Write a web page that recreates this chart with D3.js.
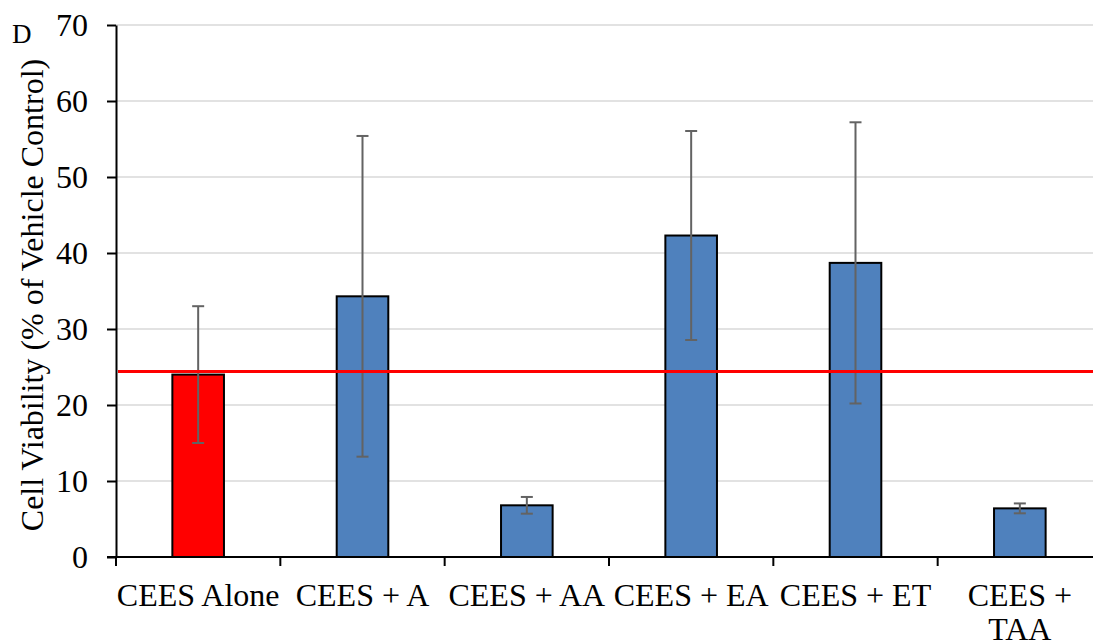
<!DOCTYPE html>
<html>
<head>
<meta charset="utf-8">
<script src="https://cdn.jsdelivr.net/npm/d3@7"></script>
<style>
  body { margin: 0; background: #fff; }
  svg text { font-family: "Liberation Serif", "Times New Roman", Times, serif; fill: #000; }
</style>
</head>
<body>
<div id="chart"></div>
<script>
const width = 1093;
const height = 640;
const margin = { top: 25, right: -9, bottom: 83, left: 116 };
const serif = "'Liberation Serif', 'Times New Roman', Times, serif";

// data
const categories = ["CEES Alone", "CEES + A", "CEES + AA", "CEES + EA", "CEES + ET", "CEES + TAA"];
const labelLines = [["CEES Alone"], ["CEES + A"], ["CEES + AA"], ["CEES + EA"], ["CEES + ET"], ["CEES +", "TAA"]];
const viability = [24.0, 34.3, 6.8, 42.3, 38.7, 6.4];
const sd = [9.0, 21.1, 1.1, 13.75, 18.5, 0.65];
const barColors = ["#ff0000", "#4f81bd", "#4f81bd", "#4f81bd", "#4f81bd", "#4f81bd"];
const referenceLine = 24.4;
const yTicks = [0, 10, 20, 30, 40, 50, 60, 70];

const svg = d3.select("#chart")
  .append("svg")
  .attr("width", width)
  .attr("height", height);

const x = d3.scaleBand()
  .domain(categories)
  .range([margin.left, width - margin.right])
  .padding(0);

const y = d3.scaleLinear()
  .domain([0, 70])
  .range([height - margin.bottom, margin.top]);

const barW = x.bandwidth() * 0.314;

// gridlines
svg.append("g")
  .selectAll("line")
  .data(yTicks.filter(d => d > 0))
  .join("line")
  .attr("x1", margin.left)
  .attr("x2", width - margin.right - 2)
  .attr("y1", d => y(d))
  .attr("y2", d => y(d))
  .attr("stroke", "#d9d9d9")
  .attr("stroke-width", 1.5);

// bars
svg.append("g")
  .selectAll("rect")
  .data(categories)
  .join("rect")
  .attr("x", (d) => x(d) + x.bandwidth() / 2 - barW / 2)
  .attr("y", (d, i) => y(viability[i]))
  .attr("width", barW)
  .attr("height", (d, i) => y(0) - y(viability[i]))
  .attr("fill", (d, i) => barColors[i])
  .attr("stroke", "#000")
  .attr("stroke-width", 2);

// error bars
const err = svg.append("g")
  .attr("stroke", "#636363")
  .attr("stroke-width", 2);
categories.forEach((c, i) => {
  const cx = x(c) + x.bandwidth() / 2;
  const lo = y(viability[i] - sd[i]);
  const hi = y(viability[i] + sd[i]);
  err.append("line").attr("x1", cx).attr("x2", cx).attr("y1", lo).attr("y2", hi);
  err.append("line").attr("x1", cx - 6).attr("x2", cx + 6).attr("y1", lo).attr("y2", lo);
  err.append("line").attr("x1", cx - 6).attr("x2", cx + 6).attr("y1", hi).attr("y2", hi);
});

// red reference line
svg.append("line")
  .attr("x1", margin.left + 2)
  .attr("x2", width - margin.right - 2)
  .attr("y1", y(referenceLine))
  .attr("y2", y(referenceLine))
  .attr("stroke", "#ff0000")
  .attr("stroke-width", 3);

// y axis
const yAxis = svg.append("g")
  .attr("transform", "translate(" + margin.left + ",0)")
  .call(d3.axisLeft(y).tickValues(yTicks).tickSize(9).tickPadding(19).tickSizeOuter(0));
yAxis.attr("font-family", null);
yAxis.select(".domain").attr("stroke", "#000").attr("stroke-width", 2);
yAxis.selectAll(".tick line").attr("stroke", "#000").attr("stroke-width", 2);
yAxis.selectAll(".tick text")
  .style("font-family", serif)
  .attr("font-size", 32)
  .attr("fill", "#000");

// x axis line and category boundary ticks
const xAxis = svg.append("g");
xAxis.append("line")
  .attr("x1", margin.left - 9)
  .attr("x2", width - margin.right)
  .attr("y1", y(0))
  .attr("y2", y(0))
  .attr("stroke", "#000")
  .attr("stroke-width", 2);
const edges = categories.map(c => x(c));
xAxis.selectAll("line.tk")
  .data(edges)
  .join("line")
  .attr("class", "tk")
  .attr("x1", d => d)
  .attr("x2", d => d)
  .attr("y1", y(0))
  .attr("y2", y(0) + 9)
  .attr("stroke", "#000")
  .attr("stroke-width", 2);

// category labels
categories.forEach((c, i) => {
  const t = svg.append("text")
    .attr("x", x(c) + x.bandwidth() / 2)
    .attr("y", 606)
    .attr("text-anchor", "middle")
    .style("font-family", serif)
    .attr("font-size", 32);
  labelLines[i].forEach((ln, j) => {
    t.append("tspan")
      .attr("x", x(c) + x.bandwidth() / 2)
      .attr("dy", j === 0 ? 0 : 34)
      .text(ln);
  });
});

// y axis title
svg.append("text")
  .attr("transform", "translate(43," + 295 + ") rotate(-90)")
  .attr("text-anchor", "middle")
  .style("font-family", serif)
  .attr("font-size", 32)
  .text("Cell Viability (% of Vehicle Control)");

// panel letter
svg.append("text")
  .attr("x", 12)
  .attr("y", 43)
  .style("font-family", serif)
  .attr("font-size", 27)
  .text("D");
</script>
</body>
</html>
